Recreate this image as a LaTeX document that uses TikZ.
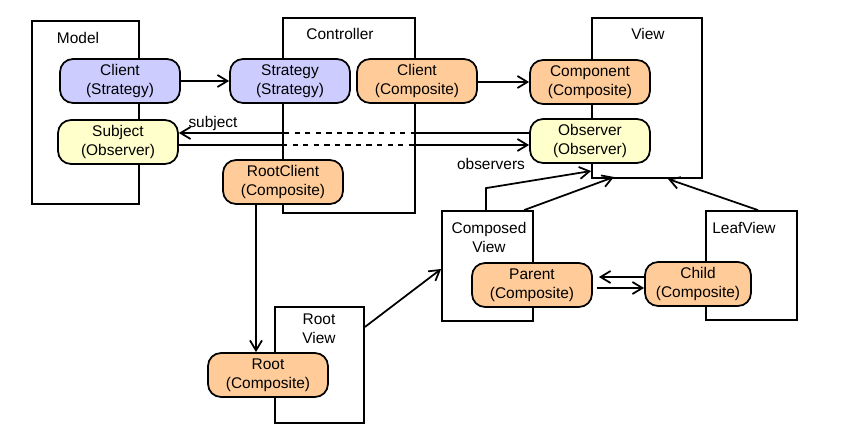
\documentclass[tikz,border=0pt]{standalone}
\usepackage{fontspec}
\setmainfont{Liberation Sans}
\usepackage{xcolor}
\usetikzlibrary{arrows, arrows.meta}
\usetikzlibrary{calc}
\usetikzlibrary{fit}

\definecolor{lavender}{HTML}{CCCCFF}
\definecolor{peach}{HTML}{FFCC99}
\definecolor{cream}{HTML}{FFFFCC}

\begin{document}
\begin{tikzpicture}[x=0.02cm, y=-0.02cm,
    font=\fontsize{8.8}{10.8}\selectfont,
    pane/.style={draw, line width=1pt, inner sep=0pt},
    pill/.style={draw, line width=1pt, rounded corners=0.26cm, align=center, inner sep=1pt, minimum width=2.4cm, minimum height=0.88cm},
    arr/.style={line width=1pt, -{Straight Barb[length=2mm, width=2.4mm]}},
    wire/.style={line width=1pt}]
      \useasboundingbox (0,0) rectangle (846,429);

      % the boxes
      \node[pane, fit={(32,21) (139,204)}] (model) {};
      \node[pane, fit={(283,18) (415,213)}] (ctrl) {};
      \node[pane, fit={(592,18) (702,178)}] (view) {};
      \node[pane, fit={(442,211) (533,321)}] (composed) {};
      \node[pane, fit={(706,211) (797,320)}] (leaf) {};
      \node[pane, fit={(275,307) (364,423)}] (rootview) {};

      \node (modeltitle) at (78,38) {Model};
      \node (ctrltitle) at (340,34) {Controller};
      \node (viewtitle) at (648,34) {View};
      \node[align=center] (composedtitle) at (489,237) {Composed\\View};
      \node (leaftitle) at (744,228) {LeafView};
      \node[align=center] (roottitle) at (319,329) {Root\\View};

      % the roles
      \node[pill, fill=lavender] (client) at (120,81) {Client\\(Strategy)};
      \node[pill, fill=lavender] (strategy) at (290,81) {Strategy\\(Strategy)};
      \node[pill, fill=peach] (clientc) at (417,81) {Client\\(Composite)};
      \node[pill, fill=peach] (component) at (590,82) {Component\\(Composite)};
      \node[pill, fill=cream] (subject) at (118,142) {Subject\\(Observer)};
      \node[pill, fill=cream] (observer) at (590,141) {Observer\\(Observer)};
      \node[pill, fill=peach] (rootclient) at (283,182) {RootClient\\(Composite)};
      \node[pill, fill=peach] (root) at (268,375) {Root\\(Composite)};
      \node[pill, fill=peach] (parent) at (532,285) {Parent\\(Composite)};
      \node[pill, fill=peach, minimum width=2.12cm] (child) at (698,284) {Child\\(Composite)};

      \draw[arr] (client) -- (strategy);
      \draw[arr] (clientc.east |- component.west) -- (component.west);

      % subject / observers links
      \coordinate (s1) at (ctrl.east |- 0,133);
      \coordinate (s2) at (ctrl.west |- 0,133);
      \coordinate (o1) at (ctrl.west |- 0,145);
      \coordinate (o2) at (ctrl.east |- 0,145);
      \draw[wire] (observer.west |- 0,133) -- (s1);
      \draw[wire, dashed] (s1) -- (s2);
      \draw[arr] (s2) -- (subject.east |- 0,133);
      \draw[wire] (subject.east |- 0,145) -- (o1);
      \draw[wire, dashed] (o1) -- (o2);
      \draw[arr] (o2) -- (observer.west |- 0,145);
      \node (subjectlabel) at (213,124) {subject};
      \node (observerslabel) at (491,164) {observers};

      \draw[arr] (rootclient.south -| 256,0) -- (root.north -| 256,0);
      \draw[arr] (rootview.east |- 0,327) -- (composed.west |- 0,269);
      \draw[arr] (composed.north -| 486,0) -- ++(0,-22) -- (view.west |- 0,171);
      \draw[arr] (composed.north -| 524,0) -- (614,177);
      \draw[arr] (leaf.north -| 758,0) -- (668,179);
      \draw[arr] (child.west |- 0,277) -- ([xshift=0.12cm]parent.east |- 0,277);
      \draw[arr] ([xshift=0.08cm]parent.east |- 0,288) -- (child.west |- 0,288);
    \end{tikzpicture}
\end{document}
